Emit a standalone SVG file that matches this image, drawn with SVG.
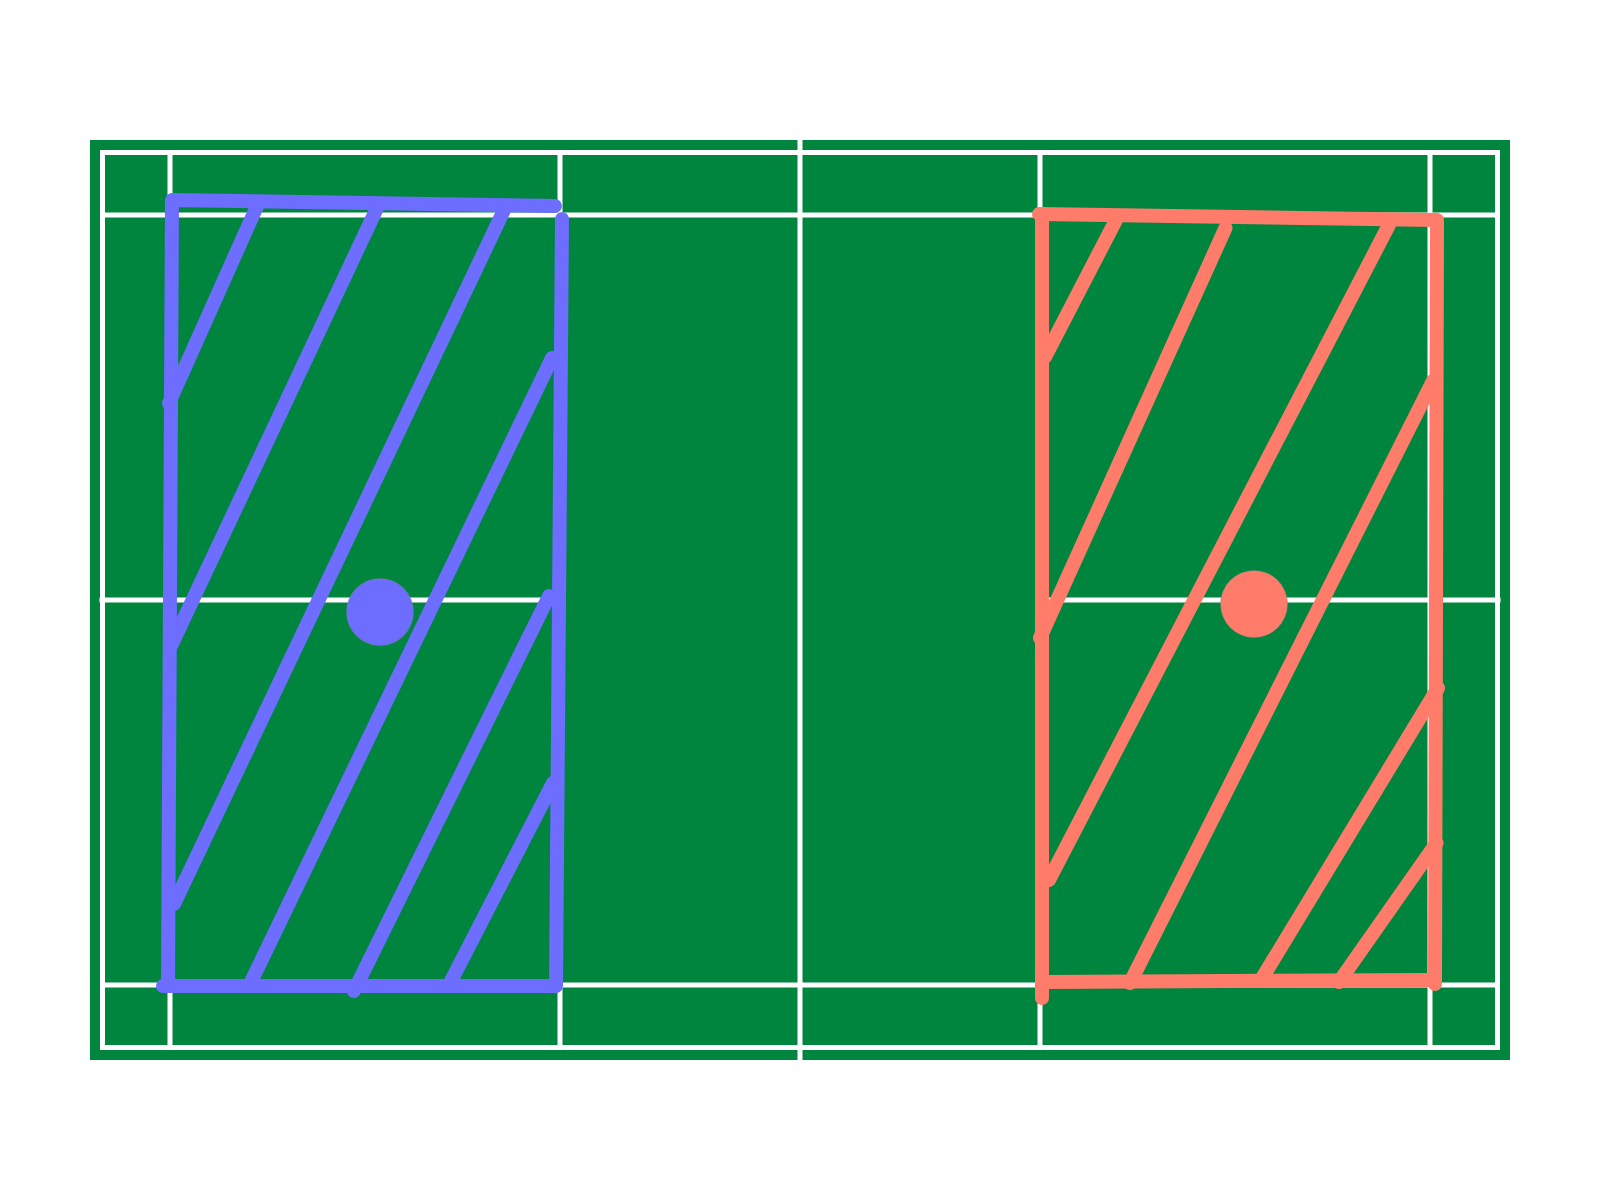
<svg xmlns="http://www.w3.org/2000/svg" width="1600" height="1200" viewBox="0 0 1600 1200">
<style>
.court{fill:#00853f}
.line{stroke:#fff;stroke-width:5;fill:none}
.sk{fill:none;stroke-width:14;stroke-linecap:round;stroke-linejoin:round}
.blue{stroke:#6d6dff}
.red{stroke:#ff7c6b}
.pb{fill:#6d6dff;stroke:#808080;stroke-opacity:.45;stroke-width:1}
.pr{fill:#ff7c6b;stroke:#808080;stroke-opacity:.45;stroke-width:1}
</style>
<rect width="1600" height="1200" fill="#fff"/>
<g id="court">
<rect class="court" x="90" y="140" width="1420" height="920"/>
<rect class="line" x="102.500" y="152.500" width="1395" height="895"/>
<path class="line" d="M100 215H1500M100 985H1500M99.500 600H562.500M1037.500 600H1500.500M170 150V1050M560 150V1050M1040 150V1050M1430 150V1050M800 140V1060"/>
</g>
<g id="blue-zone">
<path class="sk blue" d="M555 206L172 200L168 986"/>
<path class="sk blue" d="M163 986H556L562 219"/>
<path class="sk blue" d="M258 204L169 403M378 206L171 646M505 208L174 904M552 358L250 984M549 596L354 991M553 783L449 985"/>
</g>
<g id="red-zone">
<path class="sk red" d="M1039 214L1437 220L1435 984"/>
<path class="sk red" d="M1042 214V998"/>
<path class="sk red" d="M1042 982L1435 980"/>
<path class="sk red" d="M1116 220L1045 357M1225.500 228L1040 638M1391 221L1049 880M1433 381L1130 983M1438 688L1261 980M1436.500 843L1339 982"/>
</g>
<g id="player-blue"><circle class="pb" cx="380" cy="612" r="33.500"/></g>
<g id="player-red"><circle class="pr" cx="1254" cy="604" r="33.500"/></g>
</svg>
